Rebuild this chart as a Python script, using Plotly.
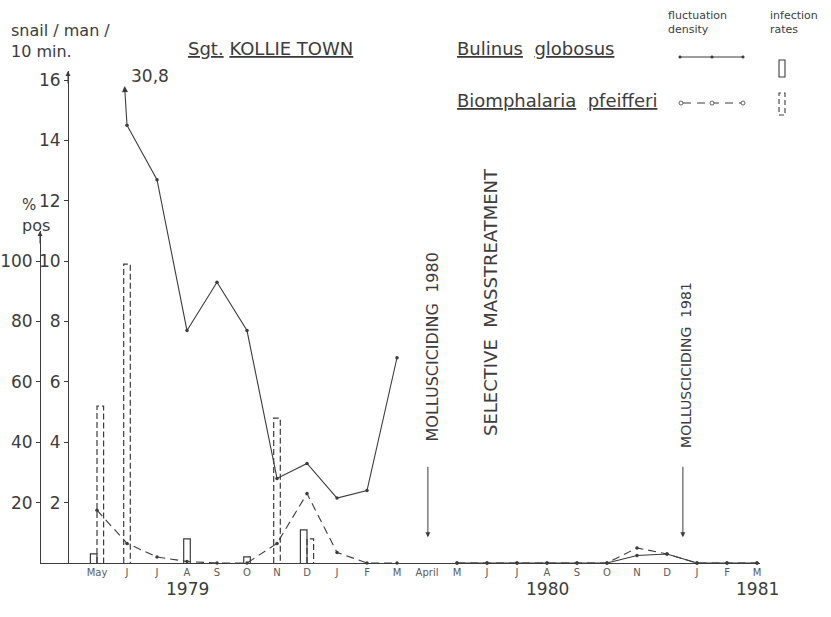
import plotly.graph_objects as go

# --- data -------------------------------------------------------------
month_labels = ["May", "J", "J", "A", "S", "O", "N", "D", "J", "F", "M", "April",
                "M", "J", "J", "A", "S", "O", "N", "D", "J", "F", "M"]
year_labels = ["1979", "1980", "1981"]
year_label_pos = [3, 15, 22]

# snails / man / 10 min (None = no survey)
bulinus_density = [30.8, 14.5, 12.7, 7.7, 9.3, 7.7, 2.8, 3.3, 2.15, 2.4, 6.8, None,
                   0, 0, 0, 0, 0, 0, 0.25, 0.3, 0, 0, 0]
biomph_density = [1.75, 0.65, 0.2, 0.05, 0, 0, 0.65, 2.3, 0.35, 0, 0, None,
                  0, 0, 0, 0, 0, 0, 0.5, 0.3, 0, 0, 0]

# infection rates, % positive (month index -> value)
bulinus_infection_months = [0, 3, 5, 7]
bulinus_infection = [3, 8, 2, 11]
biomph_infection_months = [0, 1, 6, 7]
biomph_infection = [52, 99, 48, 8]

events = ["MOLLUSCICIDING  1980", "SELECTIVE  MASSTREATMENT", "MOLLUSCICIDING  1981"]

# --- styling ----------------------------------------------------------
INK = "#3c3c3c"
FONT = "DejaVu Sans"
Y_TOP = 16.3            # top of the snail-density scale
CLIP = 15.8             # level where off-scale lines stop
PCT_TOP = 110           # top of the % positive scale
BAR_W = 0.22            # bar width in month units
L, R, T, B = 40, 71, 71, 54
W, H = 831, 617


def px(X):
    return (X - L) / (W - L - R)


def py(Y):
    return (H - B - Y) / (H - B - T)


fig = go.Figure()

# off-scale first point: draw the line from the first on-scale point with an arrow
x_idx = list(range(len(month_labels)))
first = next(i for i, v in enumerate(bulinus_density) if v is not None and v <= CLIP)
bx, by = x_idx[first:], bulinus_density[first:]
prev_v, cur_v = bulinus_density[first - 1], bulinus_density[first]
t = (CLIP - cur_v) / (prev_v - cur_v)
clip_x = first - t

fig.add_trace(go.Scatter(x=bx, y=by, mode="lines+markers",
                         line=dict(color=INK, width=1.1),
                         marker=dict(size=3.5, color=INK),
                         connectgaps=False, showlegend=False, cliponaxis=False))
fig.add_trace(go.Scatter(x=x_idx, y=biomph_density, mode="lines+markers",
                         line=dict(color=INK, width=1.1, dash="8px,5px"),
                         marker=dict(size=3.5, color=INK),
                         connectgaps=False, showlegend=False, cliponaxis=False))

fig.add_annotation(x=clip_x, y=CLIP, xref="x", yref="y",
                   ax=first, ay=cur_v, axref="x", ayref="y",
                   showarrow=True, arrowhead=2, arrowsize=1.1, arrowwidth=1.1,
                   arrowcolor=INK, text="")
fig.add_annotation(x=clip_x, y=CLIP, xref="x", yref="y", xanchor="left", yanchor="bottom",
                   xshift=4, yshift=-2, showarrow=False,
                   text=f"{prev_v:.1f}".replace(".", ","),
                   font=dict(family=FONT, size=17, color=INK))


def bar_outline(months, values, shift):
    xs, ys = [], []
    for m, v in zip(months, values):
        c = m + shift(m)
        x0, x1 = c - BAR_W / 2, c + BAR_W / 2
        xs += [x0, x0, x1, x1, None]
        ys += [0, v, v, 0, None]
    return xs, ys


both = set(bulinus_infection_months) & set(biomph_infection_months)
sx, sy = bar_outline(bulinus_infection_months, bulinus_infection,
                     lambda m: -BAR_W / 2 if m in both else 0)
dx, dy = bar_outline(biomph_infection_months, biomph_infection,
                     lambda m: BAR_W / 2 if m in both else 0)
fig.add_trace(go.Scatter(x=sx, y=sy, yaxis="y2", mode="lines",
                         line=dict(color=INK, width=1.2), showlegend=False))
fig.add_trace(go.Scatter(x=dx, y=dy, yaxis="y2", mode="lines",
                         line=dict(color=INK, width=1.2, dash="6px,3px"), showlegend=False))

# --- axes -------------------------------------------------------------
X0, X1 = -1.9, 22.1
SNAIL_AXIS_X = -0.967
snail_axis_pos = (SNAIL_AXIS_X - X0) / (X1 - X0)

fig.update_layout(
    width=W, height=H,
    margin=dict(l=L, r=R, t=T, b=B, autoexpand=False),
    paper_bgcolor="white", plot_bgcolor="rgba(0,0,0,0)",
    font=dict(family=FONT, color=INK),
    xaxis=dict(range=[X0, X1], showgrid=False, zeroline=False, automargin=False,
               showline=True, linecolor=INK, linewidth=1,
               tickmode="array", tickvals=x_idx, ticktext=month_labels,
               tickfont=dict(size=10, color="#5a5a5a"), ticks="", anchor="y"),
    yaxis=dict(range=[0, Y_TOP], domain=[0, 1], showgrid=False, zeroline=False,
               anchor="free", position=snail_axis_pos, automargin=False,
               showline=True, linecolor=INK, linewidth=1,
               tickmode="array", tickvals=[2, 4, 6, 8, 10, 12, 14, 16],
               ticks="outside", ticklen=4, tickcolor=INK,
               tickfont=dict(size=17, color=INK)),
    yaxis2=dict(range=[0, PCT_TOP], domain=[0, PCT_TOP / 10 / Y_TOP],
                showgrid=False, zeroline=False, automargin=False,
                anchor="free", position=0,
                showline=True, linecolor=INK, linewidth=1,
                tickmode="array", tickvals=[20, 40, 60, 80, 100],
                ticks="outside", ticklen=4, tickcolor=INK,
                tickfont=dict(size=17, color=INK)),
)

# axis arrowheads
fig.add_annotation(x=SNAIL_AXIS_X, y=Y_TOP, xref="x", yref="y", ax=0, ay=14,
                   showarrow=True, arrowhead=2, arrowwidth=1, arrowcolor=INK, text="")
fig.add_annotation(x=X0, y=PCT_TOP, xref="x", yref="y2", ax=0, ay=14,
                   showarrow=True, arrowhead=2, arrowwidth=1, arrowcolor=INK, text="")

# axis titles
fig.add_annotation(x=px(9), y=py(41), xref="paper", yref="paper", xanchor="left",
                   yanchor="middle", showarrow=False, align="left",
                   text="snail / man /<br>10 min.", font=dict(size=16, color=INK))
fig.add_annotation(x=px(29), y=py(205), xref="paper", yref="paper", xanchor="center",
                   yanchor="middle", showarrow=False,
                   text="%", font=dict(size=15, color=INK))
fig.add_annotation(x=px(36), y=py(225), xref="paper", yref="paper", xanchor="center",
                   yanchor="middle", showarrow=False,
                   text="pos", font=dict(size=16, color=INK))

# year labels
for lbl, pos in zip(year_labels, year_label_pos):
    fig.add_annotation(x=pos, y=py(601), xref="x", yref="paper", showarrow=False,
                       text=lbl, font=dict(size=17, color=INK))

# vertical event texts with arrows
fig.add_annotation(x=11.15, y=py(347), xref="x", yref="paper", textangle=-90,
                   showarrow=False, text=events[0], font=dict(size=16, color=INK))
fig.add_annotation(x=13.1, y=py(302), xref="x", yref="paper", textangle=-90,
                   showarrow=False, text=events[1], font=dict(size=18, color=INK))
fig.add_annotation(x=19.63, y=py(365), xref="x", yref="paper", textangle=-90,
                   showarrow=False, text=events[2], font=dict(size=14, color=INK))
for xm in [11.03, 19.53]:
    fig.add_annotation(x=xm, y=0.85, xref="x", yref="y", ax=0, ay=-72,
                       showarrow=True, arrowhead=2, arrowwidth=1, arrowcolor=INK, text="")

# titles
for text, X, Y in [("<u>Sgt.</u> <u>KOLLIE TOWN</u>", 186, 48),
                   ("<u>Bulinus</u>  <u>globosus</u>", 455, 48),
                   ("<u>Biomphalaria</u>  <u>pfeifferi</u>", 455, 100)]:
    fig.add_annotation(x=px(X), y=py(Y), xref="paper", yref="paper", xanchor="left",
                       yanchor="middle", showarrow=False, text=text,
                       font=dict(size=18, color=INK))

# key
fig.add_annotation(x=px(666), y=py(23), xref="paper", yref="paper", xanchor="left",
                   yanchor="middle", showarrow=False, align="left",
                   text="fluctuation<br>density", font=dict(size=11, color=INK))
fig.add_annotation(x=px(768), y=py(23), xref="paper", yref="paper", xanchor="left",
                   yanchor="middle", showarrow=False, align="left",
                   text="infection<br>rates", font=dict(size=11, color=INK))
fig.add_shape(type="line", xref="paper", yref="paper", x0=px(680), x1=px(743),
              y0=py(57), y1=py(57), line=dict(color=INK, width=1))
for X in [680, 712, 743]:
    fig.add_shape(type="circle", xref="paper", yref="paper", x0=px(X - 1.3), x1=px(X + 1.3),
                  y0=py(57 + 1.3), y1=py(57 - 1.3), fillcolor=INK, line=dict(color=INK, width=0.5))
fig.add_shape(type="line", xref="paper", yref="paper", x0=px(683), x1=px(741),
              y0=py(103), y1=py(103), line=dict(color=INK, width=1, dash="8px,6px"))
for X in [681, 712, 743]:
    fig.add_shape(type="circle", xref="paper", yref="paper", x0=px(X - 2), x1=px(X + 2),
                  y0=py(103 + 2), y1=py(103 - 2), fillcolor="white", line=dict(color=INK, width=0.8))
fig.add_shape(type="rect", xref="paper", yref="paper", x0=px(779), x1=px(785),
              y0=py(77), y1=py(60), line=dict(color=INK, width=1.1))
fig.add_shape(type="rect", xref="paper", yref="paper", x0=px(779), x1=px(785),
              y0=py(115), y1=py(93), line=dict(color=INK, width=1.1, dash="5px,3px"))

fig.write_html("out.html")
